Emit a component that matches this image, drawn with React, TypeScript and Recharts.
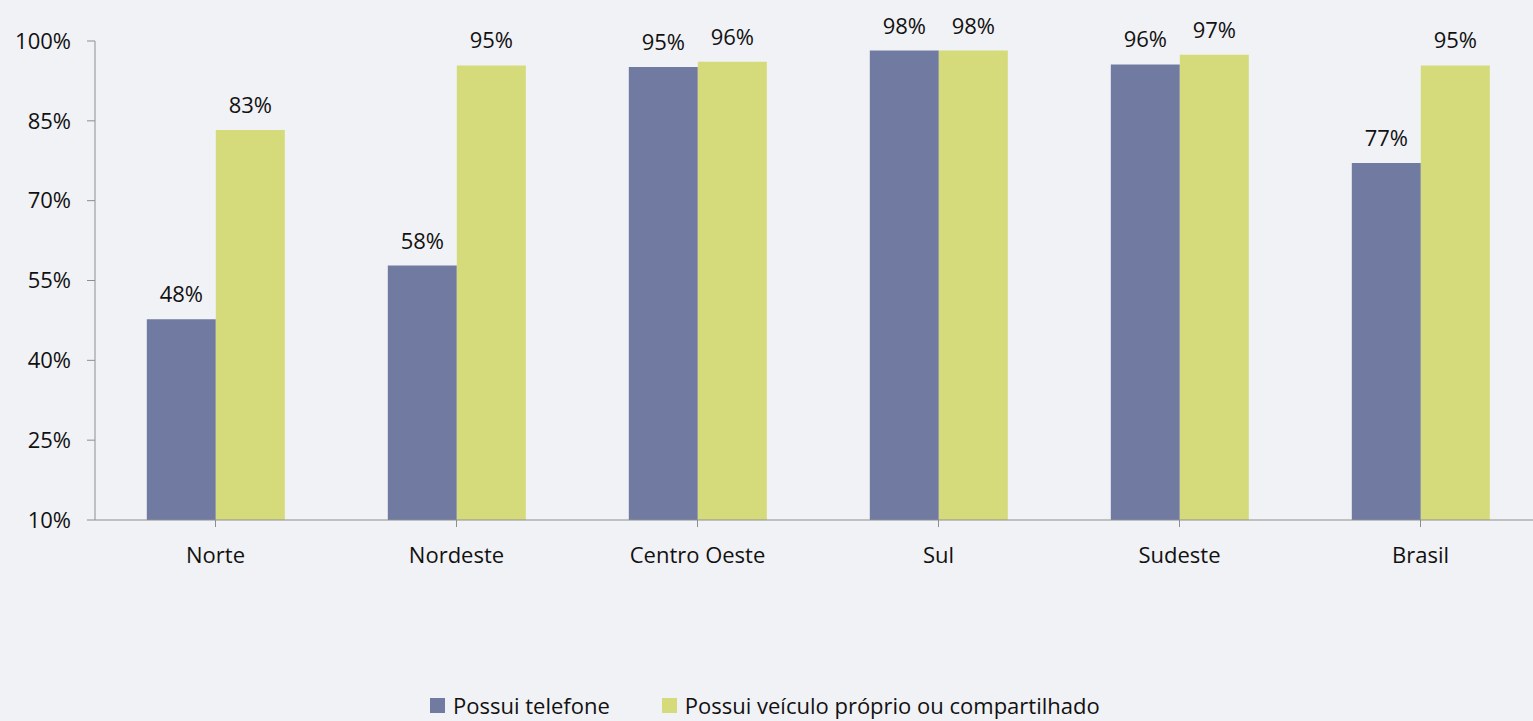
import React from 'react';
import { BarChart, Bar, XAxis, YAxis, Legend, LabelList } from 'recharts';

const categories = ['Norte', 'Nordeste', 'Centro Oeste', 'Sul', 'Sudeste', 'Brasil'];
const telefone = [47.7, 57.8, 95.1, 98.2, 95.6, 77.1];
const veiculo = [83.3, 95.4, 96.1, 98.2, 97.4, 95.4];
const yTicks = [10, 25, 40, 55, 70, 85, 100];
const seriesNames = ['Possui telefone', 'Possui veículo próprio ou compartilhado'];
const colors = ['#717aa0', '#d5db7a'];

const data = categories.map((c, i) => ({ name: c, telefone: telefone[i], veiculo: veiculo[i] }));

const FONT = '"Open Sans", sans-serif';
const AXIS = '#8e8e8e';

const LegendContent = () => (
  <div style={{ display: 'flex', alignItems: 'center', fontFamily: FONT, fontSize: 22, color: '#111' }}>
    {seriesNames.map((n, i) => (
      <div key={n} style={{ display: 'flex', alignItems: 'center', marginRight: i === 0 ? 52 : 0 }}>
        <div style={{ width: 15, height: 15, background: colors[i], marginRight: 8 }} />
        <span>{n}</span>
      </div>
    ))}
  </div>
);

export default function App() {
  return (
    <div style={{ position: 'fixed', left: 0, top: 0, width: 1533, height: 721, overflow: 'hidden', background: '#f1f2f6' }}>
      <BarChart
        width={1560}
        height={721}
        data={data}
        margin={{ top: 41, right: 19, left: 0, bottom: 111 }}
        barCategoryGap="21.5%"
        barGap={0}
      >
        <XAxis
          dataKey="name"
          height={60}
          stroke={AXIS}
          tickSize={7}
          tickMargin={20}
          tick={{ fill: '#111', fontSize: 22, fontFamily: FONT }}
          interval={0}
          tickLine={{ stroke: AXIS }}
        />
        <YAxis
          width={95}
          domain={[10, 100]}
          ticks={yTicks}
          allowDataOverflow
          stroke={AXIS}
          tickSize={8}
          tickMargin={16}
          tickFormatter={(v: number) => `${v}%`}
          tick={{ fill: '#111', fontSize: 22, fontFamily: FONT }}
        />
        <Legend
          verticalAlign="bottom"
          content={<LegendContent />}
          wrapperStyle={{ left: 430, top: 690, width: 'auto' }}
        />
        <Bar dataKey="telefone" name={seriesNames[0]} fill={colors[0]} isAnimationActive={false}>
          <LabelList
            dataKey="telefone"
            position="top"
            offset={17}
            formatter={(v: number) => `${Math.round(v)}%`}
            style={{ fill: '#111', fontSize: 22, fontFamily: FONT }}
          />
        </Bar>
        <Bar dataKey="veiculo" name={seriesNames[1]} fill={colors[1]} isAnimationActive={false}>
          <LabelList
            dataKey="veiculo"
            position="top"
            offset={17}
            formatter={(v: number) => `${Math.round(v)}%`}
            style={{ fill: '#111', fontSize: 22, fontFamily: FONT }}
          />
        </Bar>
      </BarChart>
    </div>
  );
}
